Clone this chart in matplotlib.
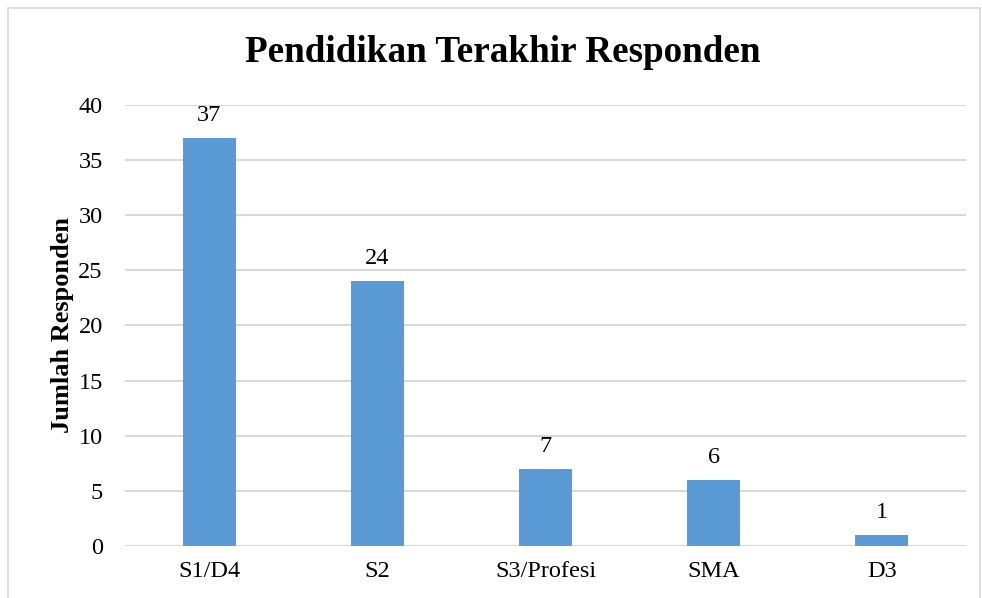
import matplotlib.pyplot as plt
from matplotlib.patches import Rectangle

categories = ['S1/D4', 'S2', 'S3/Profesi', 'SMA', 'D3']
counts = [37, 24, 7, 6, 1]
yticks = [0, 5, 10, 15, 20, 25, 30, 35, 40]

plt.rcParams['font.family'] = ['Liberation Serif', 'DejaVu Serif']

fig = plt.figure(figsize=(9.82, 5.98), dpi=100)
ax = fig.add_axes([0.1273, 0.087, 0.8564, 0.7374])

# outer chart border
fig.patches.append(Rectangle((8 / 982, -0.05), 972 / 982, 1.05 - 8 / 598,
                             transform=fig.transFigure, fill=False,
                             edgecolor='#D9D9D9', linewidth=1.2))

x = range(len(categories))
bars = ax.bar(x, counts, width=0.315, color='#5B9BD5', zorder=3)
for b, v in zip(bars, counts):
    ax.text(b.get_x() + b.get_width() / 2, v + 1.1, str(v),
            ha='center', va='bottom', fontsize=17.5)

ax.set_xlim(-0.5, 4.5)
ax.set_ylim(0, 40)
ax.set_yticks(yticks)
ax.set_xticks(list(x))
ax.set_xticklabels(categories)
ax.tick_params(axis='both', length=0, labelsize=17.5)
ax.tick_params(axis='y', pad=16)
ax.tick_params(axis='x', pad=11)
ax.grid(axis='y', color='#D9D9D9', linewidth=1.5, zorder=0)
for s in ax.spines.values():
    s.set_visible(False)

fig.text(62 / 982, 1 - 325 / 598, 'Jumlah Responden', rotation=90,
         ha='center', va='center', fontsize=19, fontweight='bold')
fig.text(0.512, 0.913, 'Pendidikan Terakhir Responden', ha='center', va='center',
         fontsize=26.7, fontweight='bold')

fig.savefig('out.png', dpi=100)
